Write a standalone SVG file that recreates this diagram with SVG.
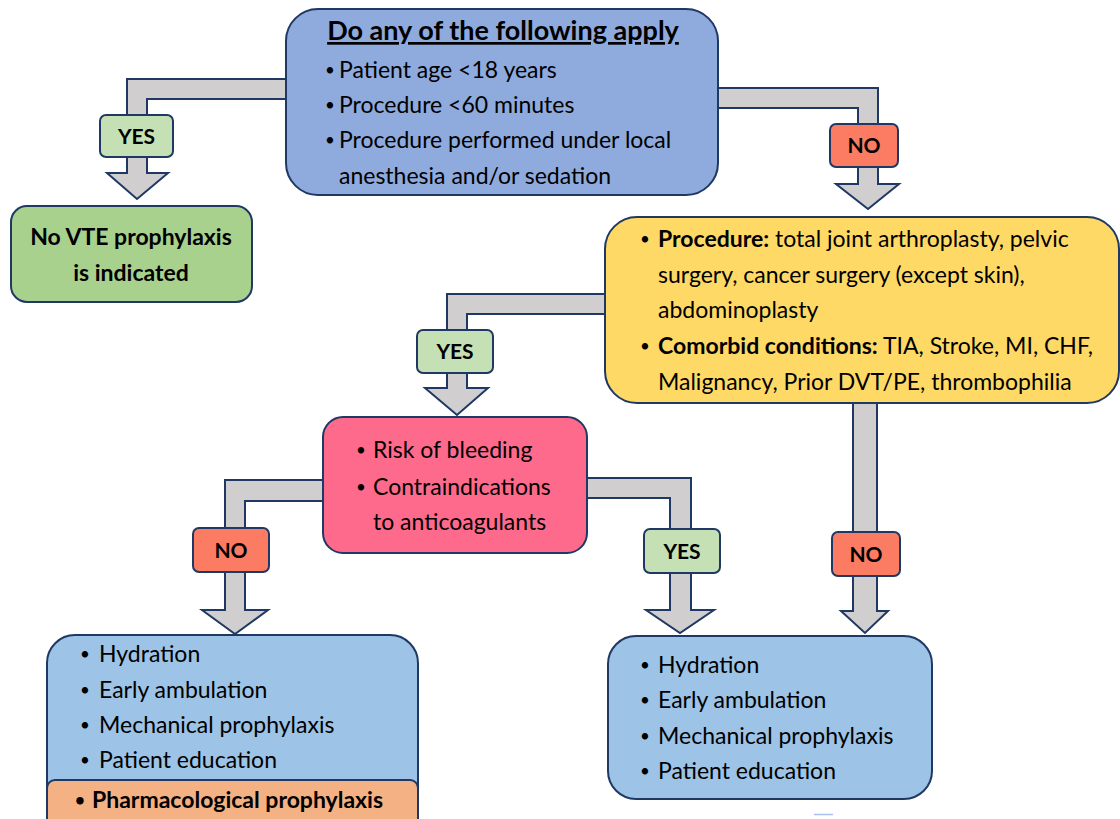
<svg xmlns="http://www.w3.org/2000/svg" width="1120" height="819" viewBox="0 0 1120 819">
<style>
  .box { stroke: #1f3864; stroke-width: 2; }
  .conn { fill: #d0cece; stroke: #1f3864; stroke-width: 2; stroke-linejoin: miter; }
  .lbl { stroke: #1f3864; stroke-width: 2; }
  .yes { fill: #c5e0b4; }
  .no { fill: #fb7c62; }
  text { font-family: Lato, "Liberation Sans", sans-serif; fill: #000; }
  .t { font-size: 23px; }
  .b { font-weight: bold; }
  .bu { font-size: 17px; }
  .lt { font-size: 21px; font-weight: bold; text-anchor: middle; }
</style>
<rect width="1120" height="819" fill="#ffffff"/>

<g id="connectors">
  <polygon class="conn" points="286,79 127,79 127,173 107,173 137,199 168,173 147,173 147,99 286,99"/>
  <polygon class="conn" points="718,88 878,88 878,184 899,184 868,209 836,184 858,184 858,108 718,108"/>
  <polygon class="conn" points="605,294 447,294 447,388 425,388 457,415 488,388 467,388 467,314 605,314"/>
  <polygon class="conn" points="323,480 225,480 225,610 202,610 235,634 268,610 245,610 245,501 323,501"/>
  <polygon class="conn" points="587,478 691,478 691,610 714,610 680,633 646,610 670,610 670,498 587,498"/>
  <polygon class="conn" points="853,403 853,611 841,611 865,633 888,611 877,611 877,403"/>
  <g id="label-yes-1"><rect class="lbl yes" x="100" y="115" width="73" height="42" rx="6"/><text class="lt" x="136.5" y="144">YES</text></g>
  <g id="label-no-1"><rect class="lbl no" x="830" y="124" width="68" height="43" rx="6"/><text class="lt" x="864" y="153">NO</text></g>
  <g id="label-yes-2"><rect class="lbl yes" x="417" y="330" width="76" height="43" rx="6"/><text class="lt" x="455" y="359">YES</text></g>
  <g id="label-no-2"><rect class="lbl no" x="193" y="528" width="76" height="44" rx="6"/><text class="lt" x="231" y="558">NO</text></g>
  <g id="label-yes-3"><rect class="lbl yes" x="644" y="529" width="76" height="44" rx="6"/><text class="lt" x="682" y="559">YES</text></g>
  <g id="label-no-3"><rect class="lbl no" x="832" y="532" width="68" height="44" rx="6"/><text class="lt" x="866" y="562">NO</text></g>
</g>

<g id="question">
  <rect class="box" x="286" y="9" width="432" height="186" rx="32" fill="#8faadc"/>
  <text class="b" x="503" y="40" text-anchor="middle" font-size="27" text-decoration="underline">Do any of the following apply</text>
  <text class="t"><tspan class="bu" x="325" y="76">•</tspan><tspan x="339" y="78">Patient age &lt;18 years</tspan></text>
  <text class="t"><tspan class="bu" x="325" y="111">•</tspan><tspan x="339" y="113">Procedure &lt;60 minutes</tspan></text>
  <text class="t"><tspan class="bu" x="325" y="146">•</tspan><tspan x="339" y="148">Procedure performed under local</tspan></text>
  <text class="t" x="339" y="184">anesthesia and/or sedation</text>
</g>

<g id="no-vte">
  <rect class="box" x="11" y="206" width="241" height="96" rx="16" fill="#a9d18e"/>
  <text class="t b" x="131" y="245" text-anchor="middle">No VTE prophylaxis</text>
  <text class="t b" x="131" y="281" text-anchor="middle">is indicated</text>
</g>

<g id="risk-factors">
  <rect class="box" x="605" y="217" width="514" height="186" rx="32" fill="#ffd966"/>
  <text class="t"><tspan class="bu" x="640" y="245">•</tspan><tspan x="658" y="247" class="b">Procedure:</tspan><tspan> total joint arthroplasty, pelvic</tspan></text>
  <text class="t" x="658" y="283">surgery, cancer surgery (except skin),</text>
  <text class="t" x="658" y="318">abdominoplasty</text>
  <text class="t"><tspan class="bu" x="640" y="352">•</tspan><tspan x="658" y="354" class="b">Comorbid conditions:</tspan><tspan> TIA, Stroke, MI, CHF,</tspan></text>
  <text class="t" x="658" y="390">Malignancy, Prior DVT/PE, thrombophilia</text>
</g>

<g id="bleeding">
  <rect class="box" x="323" y="417" width="264" height="136" rx="20" fill="#fe6a8c"/>
  <text class="t"><tspan class="bu" x="356" y="456">•</tspan><tspan x="373" y="458">Risk of bleeding</tspan></text>
  <text class="t"><tspan class="bu" x="356" y="493">•</tspan><tspan x="373" y="495">Contraindications</tspan></text>
  <text class="t" x="373" y="530">to anticoagulants</text>
</g>

<g id="pharm-plan">
  <rect class="box" x="47" y="635" width="371" height="200" rx="28" fill="#9dc3e6"/>
  <text class="t"><tspan class="bu" x="80" y="660">•</tspan><tspan x="99" y="662">Hydration</tspan></text>
  <text class="t"><tspan class="bu" x="80" y="696">•</tspan><tspan x="99" y="698">Early ambulation</tspan></text>
  <text class="t"><tspan class="bu" x="80" y="731">•</tspan><tspan x="99" y="733">Mechanical prophylaxis</tspan></text>
  <text class="t"><tspan class="bu" x="80" y="766">•</tspan><tspan x="99" y="768">Patient education</tspan></text>
  <rect class="box" x="47" y="780" width="371" height="60" rx="8" fill="#f4b183"/>
  <text class="t b"><tspan class="bu" x="75" y="806">•</tspan><tspan x="92" y="808">Pharmacological prophylaxis</tspan></text>
</g>

<g id="mech-plan">
  <rect class="box" x="608" y="636" width="324" height="163" rx="28" fill="#9dc3e6"/>
  <text class="t"><tspan class="bu" x="640" y="671">•</tspan><tspan x="658" y="673">Hydration</tspan></text>
  <text class="t"><tspan class="bu" x="640" y="706">•</tspan><tspan x="658" y="708">Early ambulation</tspan></text>
  <text class="t"><tspan class="bu" x="640" y="742">•</tspan><tspan x="658" y="744">Mechanical prophylaxis</tspan></text>
  <text class="t"><tspan class="bu" x="640" y="777">•</tspan><tspan x="658" y="779">Patient education</tspan></text>
</g>

<line x1="814" y1="814.5" x2="833" y2="814.5" stroke="#a9c1ee" stroke-width="1.5"/>
</svg>
